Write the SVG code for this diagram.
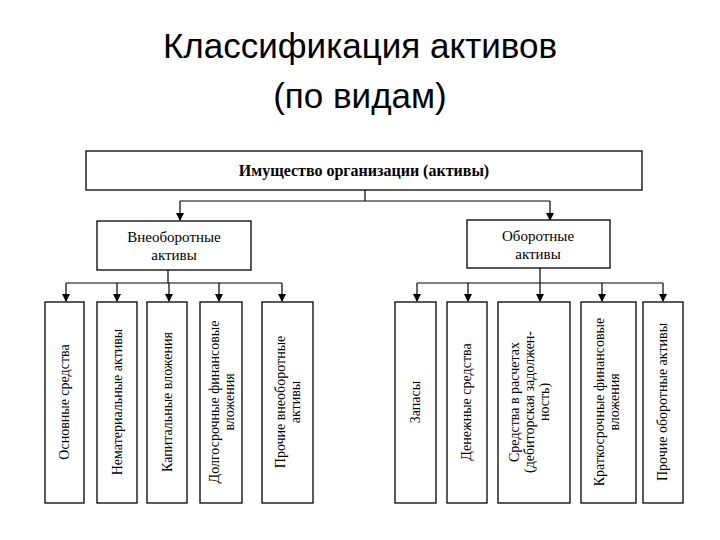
<svg xmlns="http://www.w3.org/2000/svg" width="720" height="540" viewBox="0 0 720 540">
<style>
.t{font-family:"Liberation Sans",Arial,sans-serif;font-size:35px;fill:#000;text-anchor:middle}
.b{fill:#fff;stroke:#000;stroke-width:1.3}
.s{font-family:"Liberation Serif","Times New Roman",serif;font-size:14px;fill:#000;text-anchor:middle}
.c{fill:none;stroke:#000;stroke-width:1.2}
</style>
<defs><marker id="a" markerWidth="8" markerHeight="8" refX="7" refY="4" orient="auto" markerUnits="userSpaceOnUse"><path d="M0,0 L8,4 L0,8 z" fill="#000"/></marker></defs>
<rect width="720" height="540" fill="#fff"/>
<text class="t" x="360" y="58">Классификация активов</text>
<text class="t" x="360" y="108">(по видам)</text>
<g id="connectors" class="c">
<path d="M365,190 V201 M180,201 H550"/>
<path d="M180,201 V220" marker-end="url(#a)"/>
<path d="M550,201 V220" marker-end="url(#a)"/>
<path d="M168,270 V283 M66,283 H282 M540,268 V283 M417,283 H663"/>
<path d="M66,283 V301" marker-end="url(#a)"/>
<path d="M117,283 V301" marker-end="url(#a)"/>
<path d="M169,283 V301" marker-end="url(#a)"/>
<path d="M219,283 V301" marker-end="url(#a)"/>
<path d="M282,283 V301" marker-end="url(#a)"/>
<path d="M417,283 V301" marker-end="url(#a)"/>
<path d="M468,283 V301" marker-end="url(#a)"/>
<path d="M540,283 V301" marker-end="url(#a)"/>
<path d="M602,283 V301" marker-end="url(#a)"/>
<path d="M663,283 V301" marker-end="url(#a)"/>
</g>
<g id="root"><rect class="b" x="86" y="151" width="556" height="39"/><text class="s" x="364" y="176" style="font-size:16px;font-weight:bold">Имущество организации (активы)</text></g>
<g id="vneob"><rect class="b" x="97" y="221" width="154" height="49"/><text class="s" x="174" y="242" style="font-size:15px">Внеоборотные</text><text class="s" x="174" y="260" style="font-size:15px">активы</text></g>
<g id="ob"><rect class="b" x="467" y="220" width="143" height="48"/><text class="s" x="538" y="241" style="font-size:15px">Оборотные</text><text class="s" x="538" y="259" style="font-size:15px">активы</text></g>
<g id="n1"><rect class="b" x="45" y="302" width="39" height="201"/><text class="s" transform="translate(69,402) rotate(-90)">Основные средства</text></g>
<g id="n2"><rect class="b" x="97" y="302" width="40" height="201"/><text class="s" transform="translate(122,402) rotate(-90)">Нематериальные активы</text></g>
<g id="n3"><rect class="b" x="147" y="302" width="40" height="201"/><text class="s" transform="translate(172,402) rotate(-90)">Капитальные вложения</text></g>
<g id="n4"><rect class="b" x="200" y="302" width="42" height="201"/><text class="s" transform="translate(219,402) rotate(-90)"><tspan x="0" dy="0">Долгосрочные финансовые</tspan><tspan x="0" dy="15">вложения</tspan></text></g>
<g id="n5"><rect class="b" x="262" y="302" width="51" height="201"/><text class="s" transform="translate(285,402) rotate(-90)"><tspan x="0" dy="0">Прочие внеоборотные</tspan><tspan x="0" dy="15">активы</tspan></text></g>
<g id="n6"><rect class="b" x="395" y="302" width="41" height="201"/><text class="s" transform="translate(420,402) rotate(-90)">Запасы</text></g>
<g id="n7"><rect class="b" x="447" y="302" width="40" height="201"/><text class="s" transform="translate(471,402) rotate(-90)">Денежные средства</text></g>
<g id="n8"><rect class="b" x="498" y="302" width="72" height="201"/><text class="s" transform="translate(519,402) rotate(-90)"><tspan x="0" dy="0">Средства в расчетах</tspan><tspan x="0" dy="15">(дебиторская задолжен-</tspan><tspan x="0" dy="15">ность)</tspan></text></g>
<g id="n9"><rect class="b" x="581" y="302" width="55" height="201"/><text class="s" transform="translate(604,402) rotate(-90)"><tspan x="0" dy="0">Краткосрочные финансовые</tspan><tspan x="0" dy="15">вложения</tspan></text></g>
<g id="n10"><rect class="b" x="643" y="302" width="40" height="201"/><text class="s" transform="translate(667,402) rotate(-90)">Прочие оборотные активы</text></g>
</svg>
